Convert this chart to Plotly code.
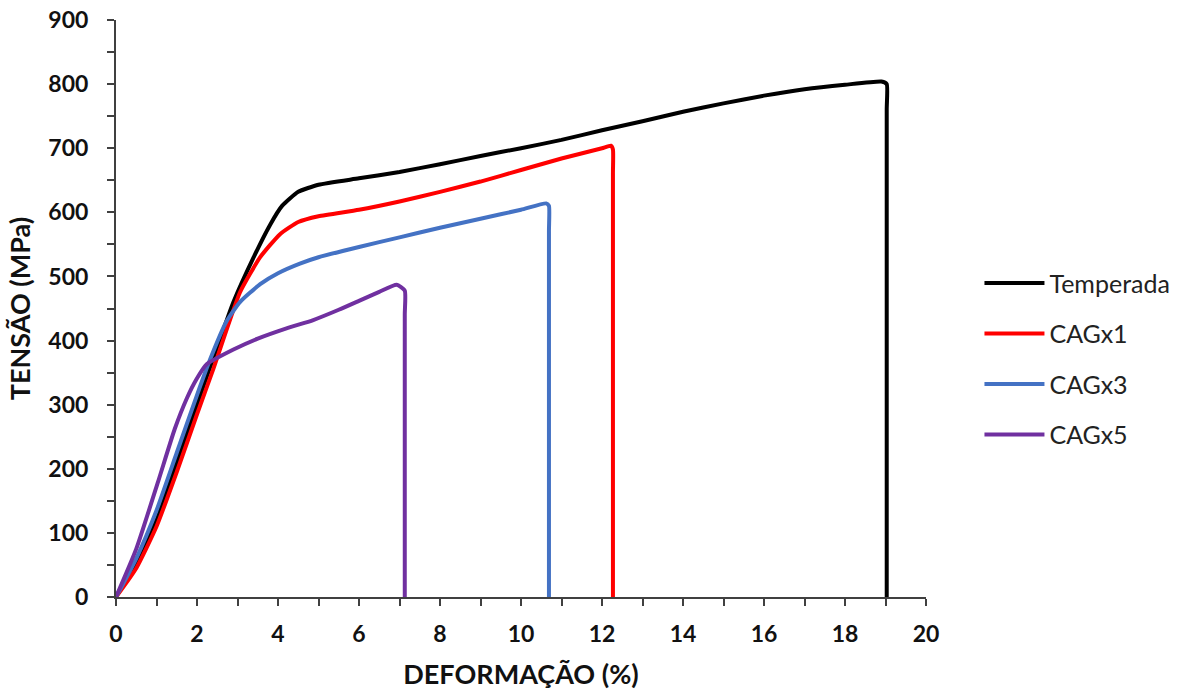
import plotly.graph_objects as go

# Temperada
temp_x = [0, 0.5, 1.0, 1.5, 2.0, 2.5, 2.9, 3.4, 3.8, 4.1, 4.5, 5.0, 6.0, 7.0, 8.0, 9.0, 10.0, 11.0, 12.0, 13.0, 14.0, 15.0, 16.0, 17.0, 18.0, 18.9, 19.03, 19.03, 19.03]
temp_y = [0, 55, 120, 210, 300, 390, 460, 530, 580, 610, 632, 643, 653, 663, 675, 688, 700, 713, 728, 742, 757, 770, 782, 792, 799, 804, 800, 760, 0]

# CAGx1
cag1_x = [0, 0.5, 1.0, 1.5, 2.0, 2.4, 3.06, 3.56, 4.05, 4.5, 5.0, 6.0, 7.0, 8.0, 9.0, 10.0, 11.0, 12.0, 12.22, 12.27, 12.27, 12.27]
cag1_y = [0, 45, 110, 195, 285, 355, 475, 530, 566, 585, 594, 604, 617, 632, 648, 666, 684, 700, 704, 698, 660, 0]

# CAGx3
cag3_x = [0, 0.5, 1.0, 1.5, 2.0, 2.32, 2.73, 3.06, 3.56, 4.0, 4.54, 5.0, 6.0, 7.0, 8.0, 9.0, 10.0, 10.62, 10.69, 10.69, 10.69]
cag3_y = [0, 60, 135, 225, 315, 370, 430, 460, 488, 505, 520, 530, 546, 561, 576, 590, 604, 614, 610, 570, 0]

# CAGx5
cag5_x = [0, 0.5, 1.04, 1.45, 1.75, 1.99, 2.24, 2.9, 3.5, 4.21, 4.87, 5.5, 6.0, 6.5, 6.93, 7.13, 7.13, 7.13]
cag5_y = [0, 75, 180, 262, 310, 340, 363, 386, 403, 419, 432, 448, 462, 476, 487, 478, 440, 0]

series = [
    ("Temperada", temp_x, temp_y, "#000000"),
    ("CAGx1", cag1_x, cag1_y, "#FF0000"),
    ("CAGx3", cag3_x, cag3_y, "#4472C4"),
    ("CAGx5", cag5_x, cag5_y, "#7030A0"),
]

fig = go.Figure()
for i, (name, xs, ys, col) in enumerate(series):
    fig.add_trace(go.Scatter(
        x=xs, y=ys, name=name, mode="lines",
        line=dict(color=col, width=4, shape="spline", smoothing=0.5),
        legendgroup=f"g{i}",
    ))

tick_font = dict(family="Lato", size=23, color="#111111")
title_font = dict(family="Lato", size=27, color="#111111")

fig.update_layout(
    width=1183, height=693,
    margin=dict(l=116, r=257, t=20, b=96, autoexpand=False),
    paper_bgcolor="white", plot_bgcolor="white",
    showlegend=True,
    legend=dict(
        x=1.066, y=0.413, xanchor="left", yanchor="middle",
        font=dict(family="Lato", size=25, color="#222222"),
        tracegroupgap=15, itemwidth=60,
        bgcolor="rgba(0,0,0,0)",
    ),
    xaxis=dict(
        range=[0, 20], tickmode="linear", tick0=0, dtick=2,
        showgrid=False, zeroline=False, automargin=False,
        showline=True, linecolor="#404040", linewidth=2,
        ticks="outside", ticklen=7, tickwidth=2, tickcolor="#404040",
        minor=dict(dtick=1, ticks="outside", ticklen=7, tickwidth=2, tickcolor="#404040", showgrid=False),
        tickfont=tick_font, ticklabelstandoff=8,
        title=dict(text="<b>DEFORMAÇÃO (%)</b>", font=title_font, standoff=20),
    ),
    yaxis=dict(
        range=[0, 900], tickmode="linear", tick0=0, dtick=100,
        showgrid=False, zeroline=False, automargin=False,
        showline=True, linecolor="#404040", linewidth=2,
        ticks="outside", ticklen=7, tickwidth=2, tickcolor="#404040",
        minor=dict(dtick=50, ticks="outside", ticklen=7, tickwidth=2, tickcolor="#404040", showgrid=False),
        tickfont=tick_font, ticklabelstandoff=14,
        title=dict(text="<b>TENSÃO (MPa)</b>", font=title_font, standoff=10),
    ),
)
fig.update_xaxes(tickprefix="<b>", ticksuffix="</b>")
fig.update_yaxes(tickprefix="<b>", ticksuffix="</b>")

fig.write_html("out.html")
